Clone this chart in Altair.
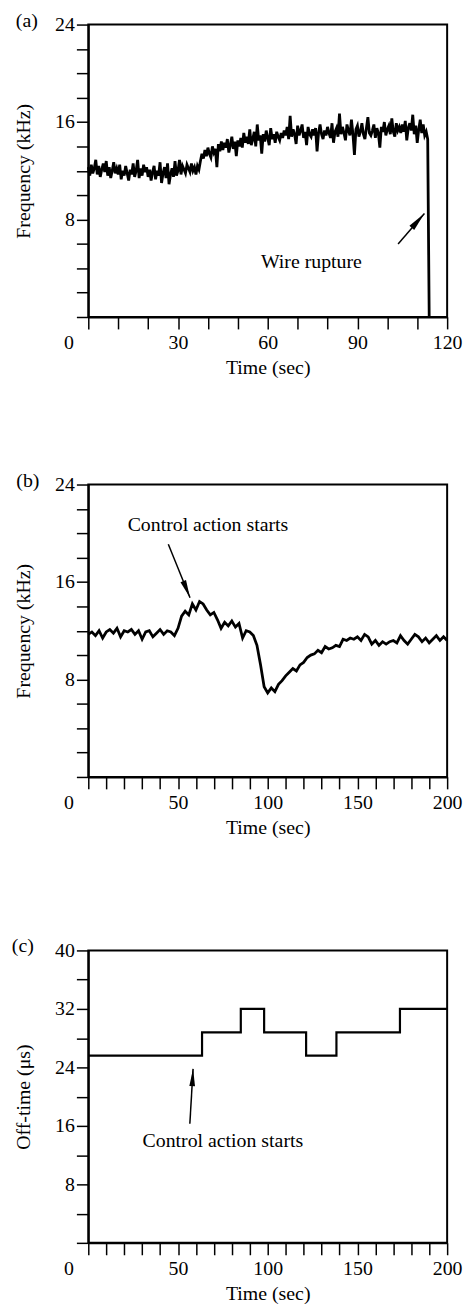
import altair as alt
import pandas as pd

# ---------------- data ----------------
# (a) frequency (kHz), sampled every 0.5 s from 0 s; last sample is the wire rupture drop
freq_a = [
    12.3, 11.6, 12.5, 11.8, 12.2, 12.9, 11.7, 12.4, 11.5, 12.1, 12.6, 11.9, 12.8, 11.6, 12.3, 11.4, 12.0, 12.7, 11.8, 12.2,
    11.7, 12.5, 11.3, 12.0, 11.6, 12.4, 11.8, 11.2, 12.1, 11.7, 12.6, 11.5, 12.0, 12.9, 11.4, 12.2, 11.6, 12.5, 11.9, 12.3,
    11.5, 12.1, 11.2, 11.9, 12.4, 11.3, 12.0, 11.6, 12.7, 11.0, 11.8, 12.3, 11.4, 12.6, 10.9, 11.7, 12.2, 11.5, 12.8, 11.6,
    12.0, 12.9, 11.7, 12.4, 12.1, 11.8, 12.5, 12.2, 11.9, 12.6, 12.0, 12.3, 11.7, 12.4, 12.1, 12.8,
    13.4, 13.0, 13.7, 13.2, 13.9, 13.4, 13.1, 14.0, 13.5, 13.8, 12.3, 14.2, 13.6, 14.4,
    13.7, 14.3, 13.9, 14.6, 13.5, 14.1, 14.8, 13.8, 14.4, 13.2, 14.5, 14.0, 14.7, 13.9, 15.1, 14.3, 14.8, 14.2, 15.4, 14.1,
    14.6, 15.2, 14.0, 15.8, 14.5, 14.9, 13.4, 15.0, 14.4, 15.3, 14.7, 14.1, 15.5, 14.6, 15.0, 14.3, 15.2, 14.8, 14.5, 15.1,
    14.7, 15.3, 14.9, 15.6, 14.6, 16.5, 14.8, 15.4, 15.0, 14.2, 15.7, 14.9, 15.3, 15.8, 14.7, 15.2, 14.1, 15.6, 15.0, 14.8,
    15.4, 14.9, 15.5, 13.6, 15.1, 15.8, 15.0, 14.6, 15.3, 14.9, 15.6, 15.1, 14.7, 15.9, 14.3, 15.2, 15.5, 14.8, 16.7, 15.0,
    15.6, 15.1, 14.5, 15.8, 15.3, 14.9, 16.2, 15.0, 13.3, 15.4, 15.7, 14.8, 15.2, 15.9, 15.0, 14.6, 15.5, 16.4, 15.1, 14.9,
    15.3, 15.8, 14.7, 15.5, 15.1, 13.9, 15.6, 15.2, 16.0, 14.9, 15.4, 15.7, 15.0, 16.3, 15.2, 14.8, 15.9, 15.3, 15.6, 15.1,
    15.8, 15.2, 16.1, 14.5, 15.5, 15.9, 15.3, 16.6, 15.0, 15.7, 14.3, 15.4, 16.2, 15.1, 15.8, 14.9, 15.2, 14.6,
    0.0,
]
time_a = [i * 0.5 for i in range(len(freq_a))]

# (b) frequency (kHz), sampled every 2 s from 0 to 200 s
freq_b = [
    11.7, 11.9, 11.6, 12.0, 11.4, 11.9, 12.1, 11.8, 12.2, 11.5, 12.0, 11.9, 12.1, 11.7, 12.0, 11.3, 11.9, 12.0, 11.5, 11.8,
    12.1, 11.7, 12.0, 11.9, 11.6,
    12.2, 13.2, 13.6, 13.3, 14.2, 13.7, 14.4, 14.2,
    13.7, 13.3, 13.5, 12.9, 12.2, 12.7, 12.4, 12.8, 12.3, 12.6, 11.4, 12.0, 11.9, 11.6,
    10.8, 9.2, 7.4, 6.9,
    7.3, 7.0, 7.6, 7.9, 8.3, 8.6, 8.9, 8.7, 9.2, 9.4, 9.8, 10.0, 10.1, 10.4, 10.2, 10.7, 10.5, 10.6, 10.8, 10.7,
    11.3, 11.2, 11.4, 11.3, 11.5, 11.2, 11.7, 11.5, 10.9, 11.2, 10.8, 11.1, 10.9, 11.1, 11.2, 11.0, 11.6, 11.2, 10.9, 11.3,
    11.7, 11.5, 11.1, 11.4, 11.0, 11.3, 11.6, 11.2, 11.5, 11.2,
]
time_b = [i * 2 for i in range(len(freq_b))]

# (c) off-time (µs), step changes
time_c = [0, 63.4, 85, 98, 121.4, 138.3, 173.7, 200]
offtime_c = [25.6, 28.8, 32, 28.8, 25.6, 28.8, 32, 32]

# annotations: [text, text t, text y, arrow tail t, tail y, arrow tip t, tip y]
ann_a = ["Wire rupture", 74.6, 4.5, 103.6, 6.0, 112.4, 8.5]
ann_b = ["Control action starts", 66.7, 20.7, 44.6, 19.1, 56.7, 14.7]
ann_c = ["Control action starts", 75.0, 13.9, 56.6, 16.3, 58.4, 23.8]

FONT = "Liberation Serif"
FS = 20
W, H = 362, 295
HEAD = "M0,0L-0.28,1.7L0.28,1.7Z"


def panel(ts, vs, xmax, xlabel_step, ymax, ytick_step, ylabel_step, ytitle,
          ann, head_angle, letter, letter_x, interp="linear", lw=2.8, head_size=520):
    xs = alt.Scale(domain=[0, xmax], nice=False, zero=False)
    ys = alt.Scale(domain=[0, ymax], nice=False)
    xax = alt.Axis(
        values=list(range(0, xmax + 1, 10)),
        labelExpr=f"datum.value % {xlabel_step} == 0 ? datum.label : ''",
        labelOffset={"condition": {"test": "datum.value == 0", "value": -20}, "value": 0},
        title="Time (sec)", titlePadding=5, labelPadding=4,
    )
    yax = alt.Axis(
        values=list(range(0, ymax + 1, ytick_step)),
        labelExpr=f"datum.value % {ylabel_step} == 0 && datum.value > 0 ? datum.label : ''",
        title=ytitle, titlePadding=21, labelPadding=2,
    )
    df = pd.DataFrame({"t": ts, "v": vs})
    line = alt.Chart(df).mark_line(color="black", strokeWidth=lw, interpolate=interp).encode(
        x=alt.X("t:Q", scale=xs, axis=xax),
        y=alt.Y("v:Q", scale=ys, axis=yax),
    )
    adf = pd.DataFrame({"label": [ann[0]], "t": [ann[1]], "v": [ann[2]],
                        "t1": [ann[3]], "v1": [ann[4]], "t2": [ann[5]], "v2": [ann[6]]})
    text = alt.Chart(adf).mark_text(font=FONT, fontSize=FS, color="black",
                                    align="center", baseline="middle").encode(
        x=alt.X("t:Q", scale=xs, axis=xax), y=alt.Y("v:Q", scale=ys, axis=yax), text="label:N")
    rule = alt.Chart(adf).mark_rule(color="black", strokeWidth=1.5).encode(
        x=alt.X("t1:Q", scale=xs, axis=xax), y=alt.Y("v1:Q", scale=ys, axis=yax), x2="t2:Q", y2="v2:Q")
    head = alt.Chart(adf).mark_point(shape=HEAD, size=head_size, filled=True, color="black",
                                     opacity=1, angle=head_angle).encode(
        x=alt.X("t2:Q", scale=xs, axis=xax), y=alt.Y("v2:Q", scale=ys, axis=yax))
    ldf = pd.DataFrame({"letter": [letter]})
    lab = alt.Chart(ldf).mark_text(font=FONT, fontSize=FS, color="black",
                                   align="center", baseline="middle").encode(
        x=alt.value(letter_x), y=alt.value(-4), text="letter:N")
    return alt.layer(line, rule, head, text, lab).properties(width=W, height=H)


pa = panel(time_a, freq_a, 120, 30, 24, 2, 8, "Frequency (kHz)", ann_a, 41, "(a)", -62)
pb = panel(time_b, freq_b, 200, 50, 24, 2, 8, "Frequency (kHz)", ann_b, 158, "(b)", -61,
           head_size=460)
pc = panel(time_c, offtime_c, 200, 50, 40, 4, 8, "Off-time (μs)", ann_c, 3, "(c)", -66,
           interp="step-after", lw=2.2, head_size=420)

chart = alt.vconcat(pa, alt.vconcat(pb, pc, spacing=98), spacing=92).properties(
    padding={"left": 2, "top": -4, "right": 0, "bottom": -2}
).configure_view(stroke="black", strokeWidth=2).configure_axis(
    labelFont=FONT, titleFont=FONT, labelFontSize=FS, titleFontSize=FS,
    titleFontWeight="normal", labelColor="black", titleColor="black",
    tickColor="black", domainColor="black", grid=False, tickSize=12,
    tickWidth=1.5, domainWidth=2, labelFlush=False, labelOverlap=False,
).configure_concat(spacing=92)

chart.save("out.html", embed_options={"renderer": "svg", "actions": False})
